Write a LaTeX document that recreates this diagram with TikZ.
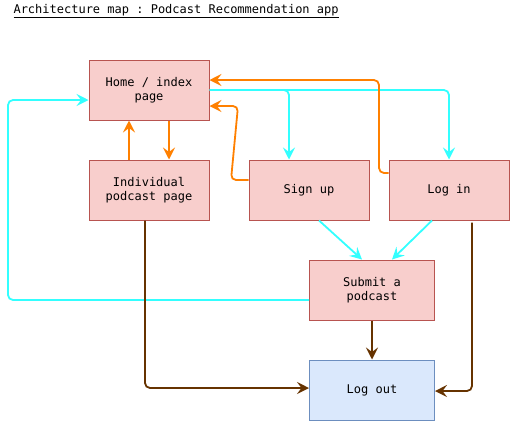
\documentclass[tikz,border=0pt]{standalone}
\usepackage{fontspec}
\setmonofont{DejaVu Sans Mono}
\usetikzlibrary{arrows.meta}

\definecolor{pinkfill}{HTML}{F8CECC}
\definecolor{pinkline}{HTML}{B85450}
\definecolor{bluefill}{HTML}{DAE8FC}
\definecolor{blueline}{HTML}{6C8EBF}
\definecolor{cyanlink}{HTML}{33FFFF}
\definecolor{orangelink}{HTML}{FF8000}
\definecolor{brownlink}{HTML}{663300}

\begin{document}
\begin{tikzpicture}[x=1pt, y=-1pt, > = {Stealth[length=12pt,width=12pt,inset=4.5pt]}, page/.style = {draw=pinkline, fill=pinkfill, line width=1pt, minimum width=120pt, minimum height=60pt, inner sep=0pt, align=center, font=\ttfamily\fontsize{12}{14}\selectfont}, exit/.style = {page, draw=blueline, fill=bluefill}, visit/.style = {->, line width=1.8pt, cyanlink, rounded corners=5pt}, back/.style = {visit, orangelink}, leave/.style = {visit, brownlink}]

    \useasboundingbox (0,0) rectangle (510,421);

    % title
    \node[anchor=west, font=\ttfamily\fontsize{12}{14}\selectfont] (title) at (10,11) {\underline{Architecture map : Podcast Recommendation app}};

    % pages
    \node[page] (home) at (149,90) {Home / index\\page};
    \node[page] (podcast) at (149,190) {Individual\\podcast page};
    \node[page] (signup) at (309,190) {Sign up};
    \node[page] (login) at (449,190) {Log in};
    \node[page, minimum width=125pt] (submit) at (372,290) {Submit a\\podcast};
    \node[exit, minimum width=125pt] (logout) at (372,390) {Log out};

    % cyan links
    \draw[visit] (home.east) -| ([xshift=-20pt]signup.north);
    \draw[visit] (home.east) -| (login.north);
    \draw[visit] ([xshift=10pt]signup.south) -- ([xshift=-10pt]submit.north);
    \draw[visit] ([xshift=-17pt]login.south) -- ([xshift=20pt]submit.north);
    \draw[visit] ([yshift=-10pt]submit.west) -| (8,100) -- ([yshift=-10pt]home.west);

    % orange links
    \draw[back] ([yshift=17pt]login.west) -| (379,80) -- ([yshift=10pt]home.east);
    \draw[back] ([yshift=10pt]signup.west) -- (231,180) -- (238,106) -- ([yshift=-16pt]home.east);
    \draw[back] ([xshift=-20pt]podcast.north) -- ([xshift=-20pt]home.south);
    \draw[back] ([xshift=20pt]home.south) -- ([xshift=20pt]podcast.north);

    % brown links
    \draw[leave] ([xshift=-4pt]podcast.south) |- ([yshift=2pt]logout.west);
    \draw[leave] (submit.south) -- (logout.north);
    \draw[leave] ([xshift=23pt,yshift=-2pt]login.south) |- ([yshift=-1pt]logout.east);

\end{tikzpicture}
\end{document}
